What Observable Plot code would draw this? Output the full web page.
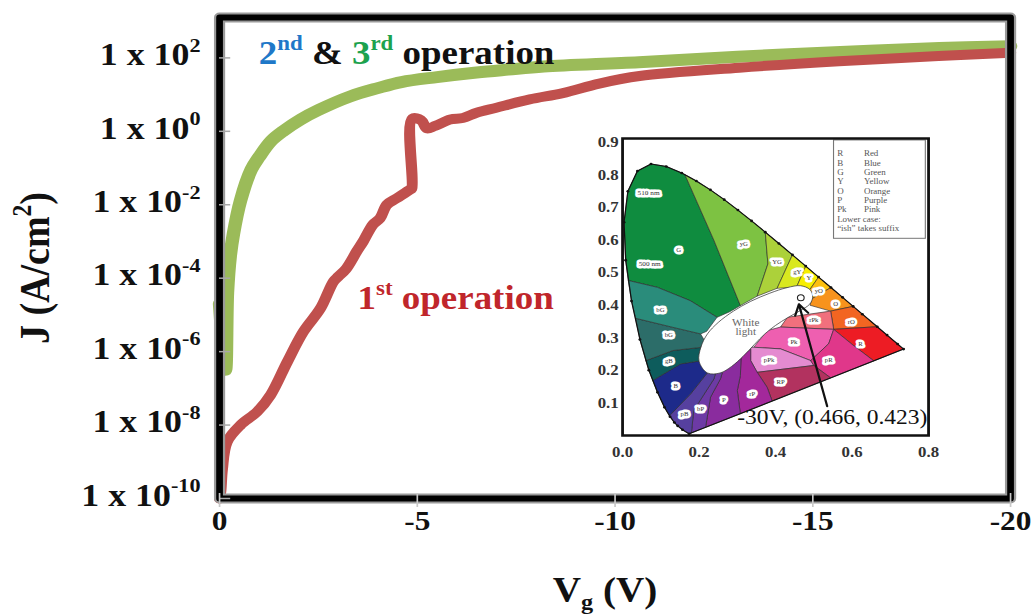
<!DOCTYPE html>
<html><head><meta charset="utf-8">
<script src="https://cdn.jsdelivr.net/npm/d3@7"></script>
<script src="https://cdn.jsdelivr.net/npm/@observablehq/plot@0.6"></script>
<style>
html,body{margin:0;padding:0;background:#fff;}
#wrap{position:relative;width:1032px;height:614px;overflow:hidden;background:#fff;}
#main{position:absolute;left:0;top:0;}
#inset{position:absolute;left:580px;top:128px;}
</style></head>
<body><div id="wrap"><div id="main"></div><div id="inset"></div></div>
<script>
// ---------------- data: main chart ----------------
const xTicks = [0, -5, -10, -15, -20];
const yTickExponents = [2, 0, -2, -4, -6, -8, -10];
const xTitle = "V_{g} (V)";
const yTitle = "J (A/cm^{2})";

// 2nd & 3rd operation (green)
const greenVg = [0, -0.15, -0.2, -0.27, -0.35, -0.53, -0.8, -1.0, -1.3, -1.6, -2.05, -2.5, -3.3, -4.0, -4.6, -5.5, -6.5, -7.3, -8.2, -10.6, -13.1, -15.7, -18.2, -20];
const greenJ  = [2.0e-5, 3.2e-7, 4.0e-5, 4.0e-4, 1.6e-3, 1.3e-2, 9.0e-2, 0.2, 0.54, 1.0, 2.1, 3.8, 8.9, 15, 22, 30, 40, 48, 58, 76, 107, 145, 186, 209];

// 1st operation (red)
const redVg = [0, -0.03, -0.07, -0.19, -0.53, -0.95, -1.29, -1.71, -2.12, -2.55, -2.88, -3.0, -3.2, -3.47, -3.63, -3.88, -4.06, -4.23, -4.48, -4.82, -4.86, -4.87, -5.1, -5.24, -5.45, -5.83, -6.15, -6.5, -7.0, -7.84, -8.68, -9.6, -10.62, -13.14, -15.66, -18.18, -20];
const redJ  = [1.0e-10, 1.6e-10, 6.3e-10, 3.5e-9, 1.0e-8, 2.3e-8, 6.6e-8, 5.2e-7, 3.5e-6, 1.5e-5, 8.1e-5, 1.1e-4, 1.8e-4, 5.4e-4, 1.0e-3, 2.9e-3, 4.3e-3, 1.0e-2, 1.5e-2, 2.6e-2, 2.8e-2, 2.2, 2.0, 1.2, 1.4, 2.1, 2.3, 3.2, 4.4, 7.4, 11, 20, 32, 54, 81, 112, 138];

const annotations = [
  {label: "2nd & 3rd operation", Vg: -0.99, J: 1.35e2},
  {label: "1st operation", Vg: -3.49, J: 2.9e-5}
];

// ---------------- data: inset (CIE chromaticity / Kelly chart) ----------------
const insetXTicks = [0, 0.2, 0.4, 0.6, 0.8];
const insetYTicks = [0.1, 0.2, 0.3, 0.4, 0.5, 0.6, 0.7, 0.8, 0.9];
// spectral locus [wavelength nm, x, y]
const locus = [
  [380,0.1741,0.0050],[450,0.1566,0.0177],[460,0.1440,0.0297],[465,0.1355,0.0399],[470,0.1241,0.0578],
  [475,0.1096,0.0868],[480,0.0913,0.1327],[485,0.0687,0.2007],[490,0.0454,0.2950],[495,0.0235,0.4127],
  [500,0.0082,0.5384],[505,0.0039,0.6548],[510,0.0139,0.7502],[515,0.0389,0.8120],[520,0.0743,0.8338],
  [525,0.1142,0.8262],[530,0.1547,0.8059],[535,0.1929,0.7816],[540,0.2296,0.7543],[545,0.2658,0.7243],
  [550,0.3016,0.6923],[555,0.3373,0.6589],[560,0.3731,0.6245],[565,0.4087,0.5896],[570,0.4441,0.5547],
  [575,0.4788,0.5202],[580,0.5125,0.4866],[585,0.5448,0.4544],[590,0.5752,0.4242],[595,0.6029,0.3965],
  [600,0.6270,0.3725],[610,0.6658,0.3340],[620,0.6915,0.3083],[640,0.7190,0.2809],[700,0.7347,0.2653]
];
const kellyRegions = [
  {name:"G",  at:[0.147,0.568], pts:[[0.015,0.476],[0.0082,0.5384],[0.0039,0.6548],[0.0139,0.7502],[0.0389,0.8120],[0.0743,0.8338],[0.1142,0.8262],[0.1547,0.8059],[0.163,0.801],[0.239,0.599],[0.308,0.399],[0.28,0.38],[0.247,0.363],[0.177,0.414],[0.091,0.455]]},
  {name:"yG", at:[0.317,0.589], pts:[[0.163,0.801],[0.1929,0.7816],[0.2296,0.7543],[0.2658,0.7243],[0.3016,0.6923],[0.3373,0.6589],[0.3731,0.6245],[0.380,0.527],[0.352,0.428],[0.308,0.399],[0.239,0.599]]},
  {name:"YG", at:[0.404,0.532], pts:[[0.3731,0.6245],[0.4087,0.5896],[0.4441,0.5547],[0.404,0.452],[0.352,0.428],[0.380,0.527]]},
  {name:"gY", at:[0.457,0.502], pts:[[0.4441,0.5547],[0.4788,0.5202],[0.455,0.456],[0.404,0.452]]},
  {name:"Y",  at:[0.487,0.482], pts:[[0.4788,0.5202],[0.5125,0.4866],[0.483,0.437],[0.455,0.456]]},
  {name:"yO", at:[0.513,0.445], pts:[[0.5125,0.4866],[0.5448,0.4544],[0.495,0.42],[0.483,0.437]]},
  {name:"O",  at:[0.557,0.404], pts:[[0.5448,0.4544],[0.5752,0.4242],[0.6029,0.3965],[0.544,0.382],[0.49,0.40],[0.495,0.42]]},
  {name:"rO", at:[0.598,0.348], pts:[[0.6029,0.3965],[0.6270,0.3725],[0.6658,0.3340],[0.552,0.326],[0.544,0.382]]},
  {name:"R",  at:[0.622,0.281], pts:[[0.6658,0.3340],[0.6915,0.3083],[0.7190,0.2809],[0.7347,0.2653],[0.657,0.229],[0.60,0.28],[0.552,0.326]]},
  {name:"rPk",at:[0.500,0.353], pts:[[0.431,0.363],[0.544,0.382],[0.552,0.326],[0.413,0.333]]},
  {name:"Pk", at:[0.448,0.286], pts:[[0.378,0.322],[0.413,0.333],[0.552,0.326],[0.539,0.282],[0.492,0.230],[0.413,0.266],[0.343,0.271]]},
  {name:"pPk",at:[0.383,0.231], pts:[[0.335,0.271],[0.343,0.271],[0.413,0.266],[0.492,0.230],[0.5,0.215],[0.352,0.194],[0.335,0.230]]},
  {name:"pR", at:[0.539,0.231], pts:[[0.492,0.230],[0.539,0.282],[0.552,0.326],[0.60,0.28],[0.657,0.229],[0.544,0.177],[0.5,0.215]]},
  {name:"RP", at:[0.413,0.164], pts:[[0.352,0.194],[0.5,0.215],[0.544,0.177],[0.391,0.106],[0.378,0.148]]},
  {name:"rP", at:[0.339,0.128], pts:[[0.308,0.067],[0.391,0.106],[0.378,0.148],[0.352,0.194],[0.335,0.230],[0.335,0.265],[0.31,0.245],[0.308,0.184],[0.300,0.138]]},
  {name:"P",  at:[0.265,0.108], pts:[[0.217,0.025],[0.308,0.067],[0.300,0.138],[0.308,0.184],[0.31,0.245],[0.265,0.21],[0.256,0.174],[0.230,0.118]]},
  {name:"bP", at:[0.204,0.082], pts:[[0.180,0.008],[0.217,0.025],[0.230,0.118],[0.256,0.174],[0.265,0.21],[0.245,0.20],[0.239,0.174],[0.186,0.077]]},
  {name:"pB", at:[0.162,0.066], pts:[[0.1741,0.005],[0.180,0.008],[0.186,0.077],[0.239,0.174],[0.245,0.20],[0.230,0.205],[0.178,0.128],[0.123,0.061],[0.1355,0.0399],[0.1440,0.0297],[0.1566,0.0177]]},
  {name:"B",  at:[0.139,0.153], pts:[[0.123,0.061],[0.178,0.128],[0.230,0.205],[0.214,0.231],[0.152,0.220],[0.079,0.169],[0.0913,0.1327],[0.1096,0.0868]]},
  {name:"gB", at:[0.121,0.230], pts:[[0.079,0.169],[0.152,0.220],[0.214,0.231],[0.209,0.271],[0.132,0.261],[0.061,0.23],[0.0687,0.2007]]},
  {name:"bG ", at:[0.121,0.307], pts:[[0.061,0.23],[0.132,0.261],[0.209,0.271],[0.215,0.29],[0.204,0.312],[0.132,0.332],[0.034,0.36],[0.0454,0.295]]},
  {name:"bG", at:[0.099,0.384], pts:[[0.034,0.36],[0.132,0.332],[0.204,0.312],[0.22,0.32],[0.247,0.363],[0.177,0.414],[0.091,0.455],[0.015,0.476],[0.0235,0.4127]]}
];
const whiteRegion = [[0.200,0.228],[0.205,0.272],[0.222,0.312],[0.250,0.347],[0.290,0.382],[0.335,0.412],[0.385,0.437],[0.430,0.454],[0.465,0.460],[0.490,0.448],[0.497,0.425],[0.489,0.403],[0.465,0.384],[0.432,0.362],[0.400,0.338],[0.372,0.312],[0.345,0.280],[0.315,0.243],[0.285,0.212],[0.255,0.192],[0.222,0.192]];
const wavelengthLabels = [{text:"510 nm", x:0.068, y:0.746}, {text:"500 nm", x:0.071, y:0.527}];
const kellyLegend = [["R","Red"],["B","Blue"],["G","Green"],["Y","Yellow"],["O","Orange"],["P","Purple"],["Pk","Pink"]];
const kellyNotes = ["Lower case:", "\u201Cish\u201D takes suffix"];
const whitePoint = {V: -30, x: 0.466, y: 0.423};

// ---------------- styles ----------------
const SERIF = "'Liberation Serif', 'Times New Roman', Times, serif";
const S = 1.12; // horizontal stretch of the original picture
const greenColor = "#9bbb59", redColor = "#c0504d", redText = "#c0262b", ink = "#111111";
const opColors = {"2": "#1f78c8", "3": "#1da24e"};
const regionColors = {G:"#0f8c3f", yG:"#7dc242", YG:"#acd13a", gY:"#d9e81f", Y:"#f7ee00", yO:"#fdc010", O:"#f7931d", rO:"#f26522", R:"#ed1c24", rPk:"#f1707d", Pk:"#ee5fb0", pPk:"#e48bd0", pR:"#e0378a", RP:"#b2325f", rP:"#a3289b", P:"#8a2c9e", bP:"#6d3aa5", pB:"#56409f", B:"#1d2a8a", gB:"#0d5c5c", "bG ":"#2c6d69", bG:"#2a8c7b"};

// ---------------- helpers ----------------
const NS = "http://www.w3.org/2000/svg";
function richify(root) {
  root.querySelectorAll("text").forEach(t => {
    const s = t.textContent;
    if (!/[\^_]\{|\[#/.test(s)) return;
    const tokens = s.split(/(\^\{[^}]*\}|_\{[^}]*\}|\[#[0-9a-fA-F]{3,8}\])/).filter(p => p !== "");
    t.textContent = "";
    let shift = 0, color = null;
    for (const p of tokens) {
      if (p.startsWith("[#")) { color = p.slice(1, -1); continue; }
      let target = 0, txt = p, small = false;
      if (p.startsWith("^{")) { target = 0.42; txt = p.slice(2, -1); small = true; }
      else if (p.startsWith("_{")) { target = -0.2; txt = p.slice(2, -1); small = true; }
      const ts = document.createElementNS(NS, "tspan");
      const size = small ? 0.62 : 1;
      const d = shift - target;
      if (Math.abs(d) > 1e-9) ts.setAttribute("dy", (d / size).toFixed(3) + "em");
      if (small) ts.setAttribute("font-size", "62%");
      if (color) ts.setAttribute("fill", color);
      ts.textContent = txt;
      t.appendChild(ts);
      shift = target;
    }
  });
}
function stretch(svg, w, h) {
  svg.setAttribute("width", w);
  svg.setAttribute("height", h);
  svg.setAttribute("preserveAspectRatio", "none");
  svg.style.width = w + "px";
  svg.style.height = h + "px";
  svg.style.maxWidth = "none";
}
function opMarkup(label, base) {
  return label.replace(/(\d)(st|nd|rd|th)/g, (m, d, suf) =>
    opColors[d] && base ? `[${opColors[d]}]${d}^{${suf}}[${base}]` : `${d}^{${suf}}`);
}

// ---------------- main chart ----------------
const green = greenVg.map((v, i) => ({Vg: v, J: greenJ[i]}));
const red = redVg.map((v, i) => ({Vg: v, J: redJ[i]}));
const yTicks = yTickExponents.map(e => Math.pow(10, e));

const W = 1032 / S;
const mLeft = 219 / S, xRight = 1010 / S;
const main = Plot.plot({
  width: W, height: 614,
  marginLeft: mLeft, marginRight: W - xRight, marginTop: 17, marginBottom: 116,
  x: {domain: [0, -20]},
  y: {type: "log", domain: [1e-10, Math.pow(10, 3.1)]},
  style: {background: "white", fontFamily: SERIF, color: ink},
  marks: [
    Plot.line(green, {x: "Vg", y: "J", stroke: greenColor, strokeWidth: 12, strokeLinejoin: "round", curve: "catmull-rom"}),
    Plot.line(red, {x: "Vg", y: "J", stroke: redColor, strokeWidth: 10, strokeLinejoin: "round", curve: "catmull-rom"}),
    Plot.frame({stroke: "#9a9a9a", strokeWidth: 10, strokeLinejoin: "round"}),
    Plot.frame({stroke: "#000", strokeWidth: 6, strokeLinejoin: "round"}),
    Plot.axisY({ticks: yTicks, tickSize: 10, dx: 10, stroke: "#a8a8a8", strokeWidth: 1.5, tickFormat: () => "", label: null}),
    Plot.axisX({ticks: xTicks, tickSize: 14, dy: -5, stroke: "#c8c8c8", strokeWidth: 1.5, tickFormat: () => "", label: null}),
    Plot.axisY({ticks: yTicks, tickSize: 0, tickPadding: 17, dy: -3, fontSize: 32, fontWeight: "bold", fill: ink,
      tickFormat: d => `1 x 10^{${Math.round(Math.log10(d))}}`, label: null}),
    Plot.axisX({ticks: xTicks, tickSize: 0, tickPadding: 12, fontSize: 28, fontWeight: "bold", fill: ink,
      tickFormat: d => String(d), label: null}),
    Plot.text([annotations[0]], {x: "Vg", y: "J", text: d => opMarkup(d.label, ink), textAnchor: "start", fontSize: 33, fontWeight: "bold", fill: ink}),
    Plot.text([annotations[1]], {x: "Vg", y: "J", text: d => opMarkup(d.label, null), textAnchor: "start", fontSize: 33, fontWeight: "bold", fill: redText}),
    Plot.text([xTitle], {text: d => d, frameAnchor: "bottom", textAnchor: "middle", lineAnchor: "middle", dy: 92, dx: -10 / S, fontSize: 35, fontWeight: "bold", fill: ink}),
    Plot.text([yTitle], {text: d => d, frameAnchor: "left", textAnchor: "middle", lineAnchor: "middle", dx: -(219 - 35) / S, dy: 10, rotate: -90, fontSize: 38, fontWeight: "bold", fill: ink})
  ]
});
richify(main);
stretch(main, 1032, 614);
document.getElementById("main").appendChild(main);

// ---------------- inset ----------------
const IWp = 360, IH = 340;
const IW = IWp / S;
const iLeft = (622 - 580) / S, iRight = (928 - 580) / S;
const xy = {x: d => d[0], y: d => d[1]};
const legendTop = 0.865, legendStep = 0.0287;
const inset = Plot.plot({
  width: IW, height: IH,
  marginLeft: iLeft, marginRight: IW - iRight, marginTop: 10, marginBottom: 33,
  x: {domain: [0, 0.8]},
  y: {domain: [0, 0.912]},
  style: {background: "white", fontFamily: SERIF, color: "#222"},
  marks: [
    ...kellyRegions.map(r => Plot.line([...r.pts, r.pts[0]], {...xy, fill: regionColors[r.name], stroke: "#2a2a2a", strokeWidth: 0.6})),
    Plot.line(whiteRegion, {...xy, fill: "white", stroke: "#333", strokeWidth: 0.7, curve: "catmull-rom-closed"}),
    Plot.line([...locus, locus[0]], {x: d => d[1], y: d => d[2], stroke: "#111", strokeWidth: 1.1}),
    Plot.dot(locus, {x: d => d[1], y: d => d[2], r: 1.3, fill: "#111"}),
    Plot.text(kellyRegions, {x: d => d.at[0], y: d => d.at[1], text: d => d.name.trim(), fontSize: 6, fill: "#333", stroke: "white", strokeWidth: 5, paintOrder: "stroke"}),
    Plot.text(wavelengthLabels, {x: "x", y: "y", text: "text", fontSize: 6.5, fill: "#333", stroke: "white", strokeWidth: 5, paintOrder: "stroke"}),
    Plot.text(["White\nlight"], {text: d => d, x: 0.322, y: 0.332, fontSize: 10, lineHeight: 0.95, fill: "#666"}),
    Plot.rect([0], {x1: 0.553, x2: 0.793, y1: 0.604, y2: 0.906, fill: "white", stroke: "#777", strokeWidth: 1}),
    Plot.text(kellyLegend, {x: 0.561, y: (d, i) => legendTop - i * legendStep, text: d => d[0], textAnchor: "start", fontSize: 8, fill: "#555"}),
    Plot.text(kellyLegend, {x: 0.631, y: (d, i) => legendTop - i * legendStep, text: d => d[1], textAnchor: "start", fontSize: 8, fill: "#555"}),
    Plot.text(kellyNotes, {x: 0.561, y: (d, i) => legendTop - (kellyLegend.length + i) * legendStep, text: d => d, textAnchor: "start", fontSize: 8, fill: "#555"}),
    Plot.arrow([whitePoint], {x1: 0.535, y1: 0.09, x2: d => d.x - 0.005, y2: d => d.y - 0.02, stroke: "#111", strokeWidth: 2, headLength: 9}),
    Plot.dot([whitePoint], {x: "x", y: "y", r: 3, stroke: "#222", strokeWidth: 1, fill: "none"}),
    Plot.text([whitePoint], {text: d => `${d.V}V, (${d.x.toFixed(3)}, ${d.y.toFixed(3)})`, frameAnchor: "bottom-right", dx: -1, dy: -12, textAnchor: "end", fontSize: 21, fill: "#111"}),
    Plot.frame({stroke: "#111", strokeWidth: 2.5}),
    Plot.axisX({ticks: insetXTicks, tickSize: 0, tickPadding: 11, tickFormat: d3.format(".1f"), fontSize: 15, fontWeight: "bold", fill: "#333", label: null}),
    Plot.axisY({ticks: insetYTicks, tickSize: 0, tickPadding: 3.5, tickFormat: d3.format(".1f"), fontSize: 15, fontWeight: "bold", fill: "#333", label: null})
  ]
});
stretch(inset, IWp, IH);
document.getElementById("inset").appendChild(inset);
</script>
</body></html>
